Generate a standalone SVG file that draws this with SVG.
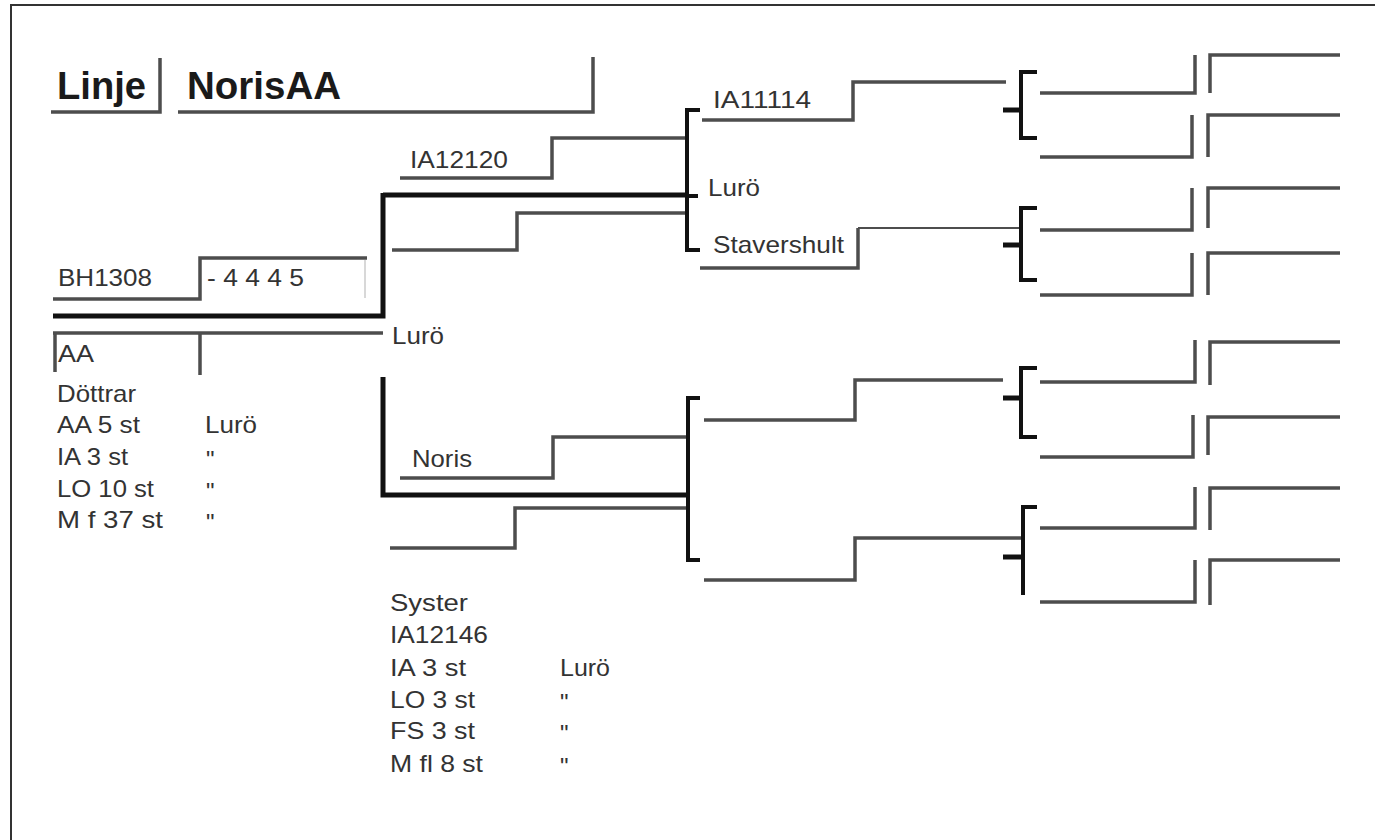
<svg xmlns="http://www.w3.org/2000/svg" width="1375" height="840" viewBox="0 0 1375 840">
<style>
.t{font-family:"Liberation Sans",Arial,sans-serif;font-size:24px;fill:#333}
.tb{font-family:"Liberation Sans",Arial,sans-serif;font-size:38px;font-weight:bold;fill:#1a1a1a}
.g{fill:none;stroke:#4d4d4d;stroke-width:3.5}
.gt{fill:none;stroke:#4d4d4d;stroke-width:2}
.k{fill:none;stroke:#111;stroke-width:4}
.kk{fill:none;stroke:#111;stroke-width:5}
.f{fill:none;stroke:#d8d8d8;stroke-width:2}
</style>
<rect width="1375" height="840" fill="#fff"/>
<path d="M11,840 V5 H1375" fill="none" stroke="#333" stroke-width="2"/>

<g id="title-linje"><text class="tb" x="57" y="99" textLength="89" lengthAdjust="spacingAndGlyphs">Linje</text><path class="g" d="M51,112 H160 V58"/></g>
<g id="title-name"><text class="tb" x="187" y="99" textLength="154" lengthAdjust="spacingAndGlyphs">NorisAA</text><path class="g" d="M178,112 H593 V57"/></g>

<g id="bh1308"><text class="t" x="58" y="286" textLength="94" lengthAdjust="spacingAndGlyphs">BH1308</text><path class="g" d="M53,299 H200 V258 H367"/><path class="f" d="M365,260 V298"/></g>
<g id="code"><text class="t" x="207" y="286" textLength="97" lengthAdjust="spacingAndGlyphs">- 4 4 4 5</text></g>
<g id="aa"><text class="t" x="58" y="362" textLength="36" lengthAdjust="spacingAndGlyphs">AA</text><path class="g" d="M55,372 V333 M200,375 V333"/></g>
<g id="dottrar">
<text class="t" x="57" y="402" textLength="79" lengthAdjust="spacingAndGlyphs">Döttrar</text>
<text class="t" x="57" y="433" textLength="83" lengthAdjust="spacingAndGlyphs">AA 5 st</text>
<text class="t" x="205" y="433" textLength="52" lengthAdjust="spacingAndGlyphs">Lurö</text>
<text class="t" x="57" y="465" textLength="71" lengthAdjust="spacingAndGlyphs">IA 3 st</text>
<text class="t" x="206" y="468">"</text>
<text class="t" x="57" y="497" textLength="97" lengthAdjust="spacingAndGlyphs">LO 10 st</text>
<text class="t" x="206" y="500">"</text>
<text class="t" x="57" y="528" textLength="106" lengthAdjust="spacingAndGlyphs">M f 37 st</text>
<text class="t" x="206" y="531">"</text>
</g>

<g id="luro-mid"><text class="t" x="392" y="344" textLength="52" lengthAdjust="spacingAndGlyphs">Lurö</text></g>
<g id="ia12120"><text class="t" x="410" y="168" textLength="98" lengthAdjust="spacingAndGlyphs">IA12120</text></g>
<g id="noris"><text class="t" x="412" y="467" textLength="60" lengthAdjust="spacingAndGlyphs">Noris</text></g>
<g id="ia11114"><text class="t" x="713" y="108" textLength="98" lengthAdjust="spacingAndGlyphs">IA11114</text></g>
<g id="luro-top"><text class="t" x="708" y="196" textLength="52" lengthAdjust="spacingAndGlyphs">Lurö</text></g>
<g id="stavershult"><text class="t" x="713" y="253" textLength="131" lengthAdjust="spacingAndGlyphs">Stavershult</text></g>

<g id="syster">
<text class="t" x="390" y="611" textLength="78" lengthAdjust="spacingAndGlyphs">Syster</text>
<text class="t" x="390" y="643" textLength="98" lengthAdjust="spacingAndGlyphs">IA12146</text>
<text class="t" x="390" y="676" textLength="76" lengthAdjust="spacingAndGlyphs">IA 3 st</text>
<text class="t" x="560" y="676" textLength="50" lengthAdjust="spacingAndGlyphs">Lurö</text>
<text class="t" x="390" y="708" textLength="85" lengthAdjust="spacingAndGlyphs">LO 3 st</text>
<text class="t" x="560" y="711">"</text>
<text class="t" x="390" y="739" textLength="85" lengthAdjust="spacingAndGlyphs">FS 3 st</text>
<text class="t" x="560" y="742">"</text>
<text class="t" x="390" y="772" textLength="93" lengthAdjust="spacingAndGlyphs">M fl 8 st</text>
<text class="t" x="560" y="775">"</text>
</g>

<g id="connectors">
<path class="kk" d="M53,316 H383 V193"/>
<path class="g" d="M53,333 H383" stroke="#666"/>
<path class="kk" d="M383,377 V495 H688"/>
<path class="kk" d="M383,195 H688"/>
<path class="k" stroke-width="2" d="M688,196 H698"/>
<path class="g" d="M400,178 H552 V138 H686"/>
<path class="g" d="M392,250 H517 V213 H686"/>
<path class="k" d="M700,110 H687 V250 H700"/>
<path class="g" d="M400,478 H553 V437 H686"/>
<path class="g" d="M390,548 H515 V508 H686"/>
<path class="k" d="M700,398 H688 V560 H700"/>

<path class="g" d="M702,120 H853 V82 H1006"/>
<path class="g" d="M700,268 H858 V228"/>
<path class="gt" d="M858,228 H1022"/>
<path class="g" d="M704,420 H855 V380 H1003"/>
<path class="g" d="M704,580 H855 V538 H1022"/>

<path class="k" d="M1037,72 H1021 V138 H1037"/>
<path class="kk" d="M1003,110 H1021"/>
<path class="k" d="M1037,208 H1021 V280 H1037"/>
<path class="kk" d="M1003,245 H1021"/>
<path class="k" d="M1037,368 H1021 V437 H1037"/>
<path class="kk" d="M1003,398 H1021"/>
<path class="k" d="M1037,507 H1023 V595"/>
<path class="kk" d="M1003,557 H1023"/>

<path class="g" d="M1040,93 H1195 V55"/>
<path class="g" d="M1040,157 H1192 V115"/>
<path class="g" d="M1040,230 H1192 V188"/>
<path class="g" d="M1040,295 H1192 V253"/>
<path class="g" d="M1040,382 H1195 V340"/>
<path class="g" d="M1040,457 H1193 V415"/>
<path class="g" d="M1040,528 H1195 V487"/>
<path class="g" d="M1040,602 H1195 V560"/>

<path class="g" d="M1210,93 V55 H1340"/>
<path class="g" d="M1208,157 V115 H1340"/>
<path class="g" d="M1208,228 V188 H1340"/>
<path class="g" d="M1208,295 V253 H1340"/>
<path class="g" d="M1210,385 V342 H1340"/>
<path class="g" d="M1208,455 V417 H1340"/>
<path class="g" d="M1210,530 V488 H1340"/>
<path class="g" d="M1210,605 V560 H1340"/>
</g>
</svg>
